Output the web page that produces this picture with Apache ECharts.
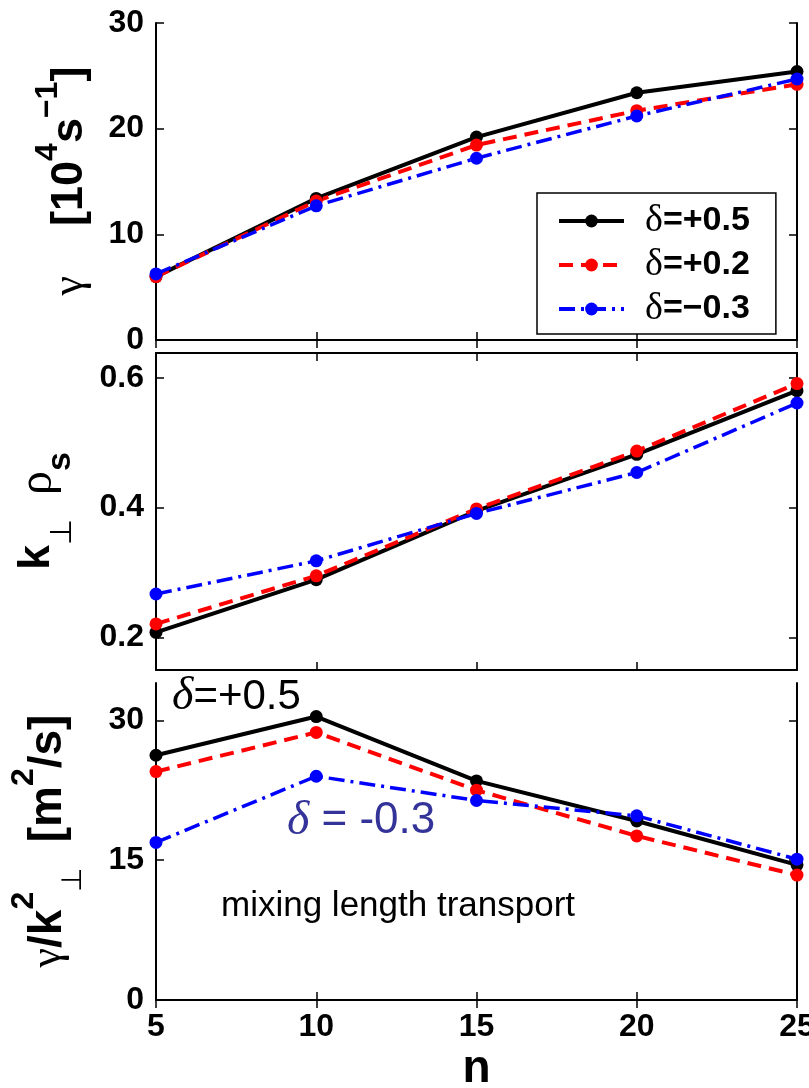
<!DOCTYPE html>
<html>
<head>
<meta charset="utf-8">
<script src="https://cdn.jsdelivr.net/npm/echarts@6/dist/echarts.min.js"></script>
<style>
  html, body { margin: 0; padding: 0; background: #fff; }
  #chart { width: 809px; height: 1088px; }
</style>
</head>
<body>
<div id="chart"></div>
<script>
// data
var nValues = [5, 10, 15, 20, 25];
var seriesNames = ['δ=+0.5', 'δ=+0.2', 'δ=−0.3'];

var gammaP05 = [6.0, 13.4, 19.2, 23.4, 25.4];
var gammaP02 = [6.0, 13.15, 18.45, 21.7, 24.2];
var gammaM03 = [6.25, 12.7, 17.2, 21.2, 24.7];

var kperpP05 = [0.208, 0.289, 0.395, 0.482, 0.580];
var kperpP02 = [0.221, 0.295, 0.398, 0.487, 0.591];
var kperpM03 = [0.267, 0.318, 0.391, 0.454, 0.561];

var diffP05 = [26.25, 30.4, 23.5, 19.2, 14.5];
var diffP02 = [24.5, 28.7, 22.5, 17.6, 13.4];
var diffM03 = [16.9, 24.0, 21.4, 19.75, 15.1];

var xTicks = [5, 10, 15, 20, 25];
var gammaTicks = [0, 10, 20, 30];
var kperpTicks = [0.2, 0.4, 0.6];
var diffTicks = [0, 15, 30];

var myChart = echarts.init(document.getElementById('chart'));

var sans = 'Liberation Sans';
var serif = 'Liberation Serif';

var lineStyles = [
    { color: '#000000', width: 4, type: 'solid' },
    { color: '#ff0000', width: 4, type: [14, 8] },
    { color: '#0000ff', width: 3.5, type: [16, 6, 3, 6] }
];

function pairs(ys) {
    return nValues.map(function (n, i) { return [n, ys[i]]; });
}

function makeSeries(name, idx, grid, ys) {
    return {
        name: name,
        type: 'line',
        xAxisIndex: grid,
        yAxisIndex: grid,
        symbol: 'circle',
        symbolSize: 13,
        itemStyle: { color: lineStyles[idx].color },
        lineStyle: lineStyles[idx],
        data: pairs(ys)
    };
}

// three stacked panels, same width
var grids = [
    { left: 156, right: 12, top: 23, height: 317, outerBoundsMode: 'none' },
    { left: 156, right: 12, top: 353, height: 317, outerBoundsMode: 'none' },
    { left: 156, right: 12, top: 683, height: 317, outerBoundsMode: 'none' }
];

var tickStyle = { show: true, inside: true, length: 8, lineStyle: { color: '#000', width: 1.5 } };
var axisLine = { show: true, lineStyle: { color: '#000', width: 2 } };
var labelFont = { fontFamily: sans, fontWeight: 'bold', fontSize: 32, color: '#000' };

function xAxisFor(grid, pos, showLabel, name) {
    return {
        type: 'value', gridIndex: grid, position: pos,
        min: 5, max: 25, interval: 5,
        axisLine: axisLine,
        axisTick: Object.assign({ customValues: xTicks }, tickStyle),
        axisLabel: Object.assign({ show: showLabel, margin: 11, customValues: xTicks }, labelFont),
        splitLine: { show: false },
        name: name || '',
        nameLocation: 'middle',
        nameGap: 46,
        nameTextStyle: { fontFamily: sans, fontWeight: 'bold', fontSize: 46, color: '#000' }
    };
}

function yAxisFor(grid, pos, min, max, ticks, showLabel, name, gap, rich) {
    return {
        type: 'value', gridIndex: grid, position: pos,
        min: min, max: max,
        axisLine: axisLine,
        axisTick: Object.assign({ customValues: ticks }, tickStyle),
        axisLabel: Object.assign({ show: showLabel, margin: 12, customValues: ticks }, labelFont),
        splitLine: { show: false },
        name: name || '',
        nameLocation: 'middle',
        nameRotate: 90,
        nameGap: gap || 0,
        nameTextStyle: { rich: rich || {} }
    };
}

// rich styles for the rotated axis titles
var mainB = { fontFamily: sans, fontWeight: 'bold', fontSize: 45, color: '#000', lineHeight: 45 };
var greek = { fontFamily: serif, fontSize: 44, color: '#000', lineHeight: 44 };
var supB = { fontFamily: sans, fontWeight: 'bold', fontSize: 32, lineHeight: 32, color: '#000', verticalAlign: 'top' };

var gammaRich = {
    g: Object.assign({}, greek, { verticalAlign: 'bottom' }),
    b: Object.assign({}, mainB, { verticalAlign: 'bottom' }),
    sup: supB,
    pad: { height: 60, width: 1 }
};
var kperpRich = {
    b: Object.assign({}, mainB, { verticalAlign: 'top', lineHeight: 46 }),
    r: Object.assign({}, greek, { fontSize: 48, verticalAlign: 'top', lineHeight: 46 }),
    sub: { fontFamily: serif, fontSize: 30, lineHeight: 28, color: '#000', verticalAlign: 'bottom' },
    subb: { fontFamily: sans, fontWeight: 'bold', fontSize: 34, lineHeight: 28, color: '#000', verticalAlign: 'bottom' },
    pad: { height: 64, width: 1 }
};
var diffRich = {
    g: Object.assign({}, greek, { verticalAlign: 'middle' }),
    b: Object.assign({}, mainB, { fontSize: 46, lineHeight: 46, verticalAlign: 'middle' }),
    sup: supB,
    sub: { fontFamily: serif, fontSize: 28, lineHeight: 26, color: '#000', verticalAlign: 'bottom' },
    pad: { height: 80, width: 1 }
};

option = {
    backgroundColor: '#ffffff',
    animation: false,
    grid: grids,
    legend: {
        data: seriesNames,
        orient: 'vertical',
        left: 537,
        top: 193,
        backgroundColor: '#fff',
        borderColor: '#000',
        borderWidth: 1.5,
        borderRadius: 0,
        padding: [9, 26, 6, 20],
        itemGap: 6,
        itemWidth: 65,
        itemHeight: 16,
        lineStyle: { width: 4 },
        formatter: function (name) { return '{d|δ}' + name.slice(1); },
        textStyle: {
            fontFamily: sans, fontWeight: 'bold', fontSize: 34, lineHeight: 34, color: '#000',
            padding: [0, 0, 0, 16],
            rich: { d: { fontFamily: serif, fontSize: 38, fontWeight: 'normal', color: '#000' } }
        }
    },
    xAxis: [
        xAxisFor(0, 'bottom', false),
        xAxisFor(1, 'bottom', false),
        xAxisFor(2, 'bottom', true, 'n'),
        xAxisFor(0, 'top', false),
        xAxisFor(1, 'top', false),
        xAxisFor(2, 'top', false)
    ],
    yAxis: [
        yAxisFor(0, 'left', 0, 30, gammaTicks, true,
            '{pad|}{g|γ}{b|    [10}{sup|4}{b|s}{sup|−1}{b|]}', 64, gammaRich),
        yAxisFor(1, 'left', 0.15, 0.638, kperpTicks, true,
            '{pad|}{b|k}{sub|⊥}{r|  ρ}{subb|s}', 78, kperpRich),
        yAxisFor(2, 'left', 0, 34, diffTicks, true,
            '{pad|}{g|γ}{b|/k}{sup|2}{sub|⊥}{b|  [m}{sup|2}{b|/s]}', 68, diffRich),
        yAxisFor(0, 'right', 0, 30, gammaTicks, false),
        yAxisFor(1, 'right', 0.15, 0.638, kperpTicks, false),
        yAxisFor(2, 'right', 0, 34, diffTicks, false)
    ],
    graphic: [
        {
            type: 'text', left: 172, top: 674, z: 100,
            style: {
                text: '{d|δ}=+0.5',
                fontFamily: sans, fontSize: 42, fill: '#000',
                rich: { d: { fontFamily: serif, fontStyle: 'italic', fontSize: 46, fill: '#000' } }
            }
        },
        {
            type: 'text', left: 287, top: 797, z: 100,
            style: {
                text: '{d|δ} = -0.3',
                fontFamily: sans, fontSize: 44, fill: '#333399',
                rich: { d: { fontFamily: serif, fontStyle: 'italic', fontSize: 48, fill: '#333399' } }
            }
        },
        {
            type: 'text', left: 221, top: 889, z: 100,
            style: { text: 'mixing length transport', fontFamily: sans, fontSize: 35, fill: '#000' }
        }
    ],
    series: [
        makeSeries(seriesNames[0], 0, 0, gammaP05),
        makeSeries(seriesNames[1], 1, 0, gammaP02),
        makeSeries(seriesNames[2], 2, 0, gammaM03),
        makeSeries(seriesNames[0], 0, 1, kperpP05),
        makeSeries(seriesNames[1], 1, 1, kperpP02),
        makeSeries(seriesNames[2], 2, 1, kperpM03),
        makeSeries(seriesNames[0], 0, 2, diffP05),
        makeSeries(seriesNames[1], 1, 2, diffP02),
        makeSeries(seriesNames[2], 2, 2, diffM03)
    ]
};

myChart.setOption(option);
</script>
</body>
</html>
